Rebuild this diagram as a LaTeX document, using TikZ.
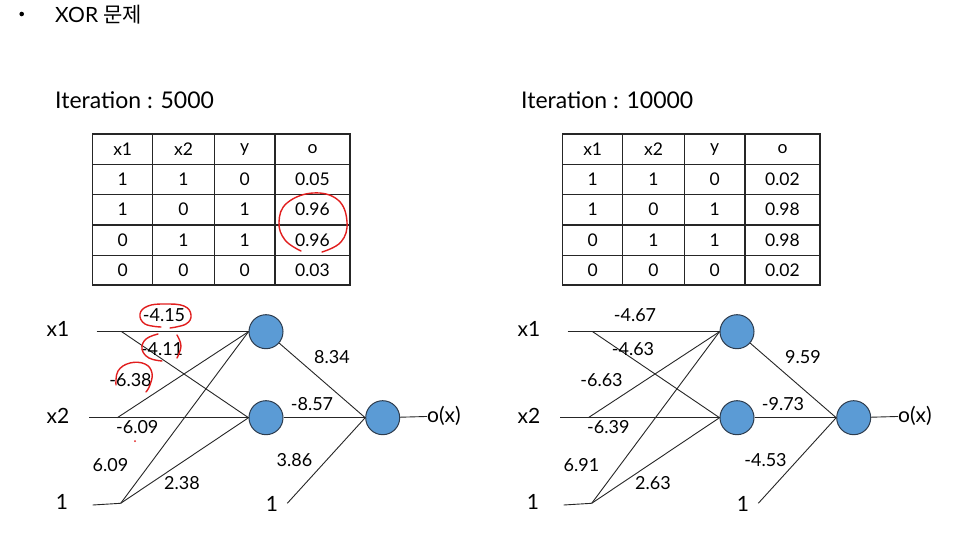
\documentclass[tikz,border=0pt]{standalone}
\usepackage{fontspec}
\setmainfont{Lato}
\newfontfamily\krfont{Noto Sans CJK KR}
\definecolor{nfill}{RGB}{91,155,213}
\definecolor{nline}{RGB}{45,60,78}
\definecolor{pen}{RGB}{225,30,30}
\begin{document}
\begin{tikzpicture}[x=1pt,y=-1pt,
  neuron/.style={circle, draw=nline, fill=nfill, minimum size=34pt, inner sep=0pt, line width=1pt},
  wl/.style={font=\fontsize{18}{20}\selectfont, inner sep=0pt},
  inp/.style={font=\fontsize{21}{23}\selectfont, inner sep=0pt},
  cell/.style={font=\fontsize{17.5}{20}\selectfont, inner sep=0pt},
  ttl/.style={font=\fontsize{23}{26}\selectfont, inner sep=0pt, anchor=west},
  conn/.style={draw=black!85, line width=0.9pt},
  grid/.style={draw=black!85, line width=1.1pt},
  redpen/.style={draw=pen, line width=1.4pt, line cap=round}]
\useasboundingbox (0,0) rectangle (959,556);
\fill[white] (0,0) rectangle (959,556);
% title
\fill[black] (21.7,14) circle (2.3);
\node[ttl, font=\fontsize{21}{24}\selectfont] (title) at (55,15) {XOR {\krfont 문제}};
\node[ttl] (it1) at (55,100) {Iteration : 5000};
\node[ttl] (it2) at (521,100) {Iteration : 10000};
% tables
\foreach \sx/\tname/\oA/\oB/\oC/\oD in {0/L/0.05/0.96/0.96/0.03, 470/R/0.02/0.98/0.98/0.02}{
  \begin{scope}[xshift=\sx]
    \draw[grid] (92.7,134) rectangle (350,285);
    \foreach \yy in {164.5,194.8,225,255.2} \draw[grid] (92.7,\yy) -- (350,\yy);
    \foreach \xx in {152.7,214.3,275} \draw[grid] (\xx,134) -- (\xx,285);
    \foreach \qa/\qb/\qc/\qd [count=\rr] in {x1/x2/y/o, 1/1/0/\oA, 1/0/1/\oB, 0/1/1/\oC, 0/0/0/\oD}{
      \node[cell] (\tname a\rr) at (122.7,{149.3+30.2*(\rr-1)}) {\qa};
      \node[cell] (\tname b\rr) at (183.5,{149.3+30.2*(\rr-1)}) {\qb};
      \node[cell] (\tname c\rr) at (244.7,{149.3+30.2*(\rr-1)}) {\qc};
      \node[cell] (\tname d\rr) at (312.5,{149.3+30.2*(\rr-1)}) {\qd};
    }
  \end{scope}
}
% networks
\foreach \sx/\pf/\wA/\wB/\wC/\wD/\wE/\wF/\wG/\wH/\wI in
  {0/L/-4.15/-4.11/-6.38/-6.09/6.09/2.38/8.34/-8.57/3.86,
   471/R/-4.67/-4.63/-6.63/-6.39/6.91/2.63/9.59/-9.73/-4.53}{
  \begin{scope}[xshift=\sx]
    \node[inp] (\pf x1) at (58,329) {x1};
    \node[inp] (\pf x2) at (58,416) {x2};
    \node[inp] (\pf b) at (62,502) {1};
    \node[inp] (\pf ob) at (272,504) {1};
    \node[inp, anchor=west] (\pf ox) at (427,416) {o(x)};
    \node[neuron] (\pf H1) at (266,331.7) {};
    \node[neuron] (\pf H2) at (266,417.7) {};
    \node[neuron] (\pf O) at (382.7,417.7) {};
    \coordinate (\pf x1s) at (96.7,331.7);
    \coordinate (\pf x1k) at (121.7,331.7);
    \coordinate (\pf x2s) at (89.3,417.7);
    \coordinate (\pf x2k) at (117.3,417.7);
    \coordinate (\pf bs) at (92.7,505);
    \coordinate (\pf bk) at (120.7,503.3);
    \coordinate (\pf obs) at (287.3,503.3);
    \draw[conn] (\pf x1s) -- (\pf H1.west);
    \draw[conn] (\pf x1k) -- (\pf H2.west);
    \draw[conn] (\pf x2s) -- (\pf H2.west);
    \draw[conn] (\pf x2k) -- (\pf H1.west);
    \draw[conn] (\pf bs) -- (\pf bk);
    \draw[conn] (\pf bk) -- (\pf H1.west);
    \draw[conn] (\pf bk) -- (\pf H2.west);
    \draw[conn] (\pf H1) -- (\pf O.west);
    \draw[conn] (\pf H2) -- (\pf O.west);
    \draw[conn] (\pf obs) -- (\pf O.west);
    \draw[conn] (\pf O) -- (\pf ox);
    \node[wl] (\pf la) at (164,315) {\wA};
    \node[wl] (\pf lb) at (162,349.3) {\wB};
    \node[wl] (\pf lc) at (130.5,380) {\wC};
    \node[wl] (\pf ld) at (137.3,426.7) {\wD};
    \node[wl] (\pf le) at (110.5,465) {\wE};
    \node[wl] (\pf lf) at (182,482.7) {\wF};
    \node[wl] (\pf lg) at (332,356.7) {\wG};
    \node[wl] (\pf lh) at (312,404) {\wH};
    \node[wl] (\pf li) at (294.5,460) {\wI};
  \end{scope}
}
% red hand annotations (left only)
\draw[redpen] plot[smooth, tension=0.7] coordinates {(301,251) (285,240) (279,222) (287,203) (313,193) (338,200) (347,222) (341,242) (322,252)};
\draw[redpen] plot[smooth, tension=0.7] coordinates {(161,327) (145,324) (140,314) (148,306) (165,304) (184,306) (191,315) (186,324) (170,328)};
\draw[redpen] plot[smooth, tension=0.7] coordinates {(158,334) (146,339) (142,349) (149,358) (162,361)};
\draw[redpen] plot[smooth, tension=0.7] coordinates {(177,335) (181,346) (177,358)};
\draw[redpen] plot[smooth, tension=0.7] coordinates {(116,385) (118,371) (130,363) (145,364) (152,373) (150,385) (146,392)};
\fill[pen] (135,441) circle (1);
\end{tikzpicture}
\end{document}
